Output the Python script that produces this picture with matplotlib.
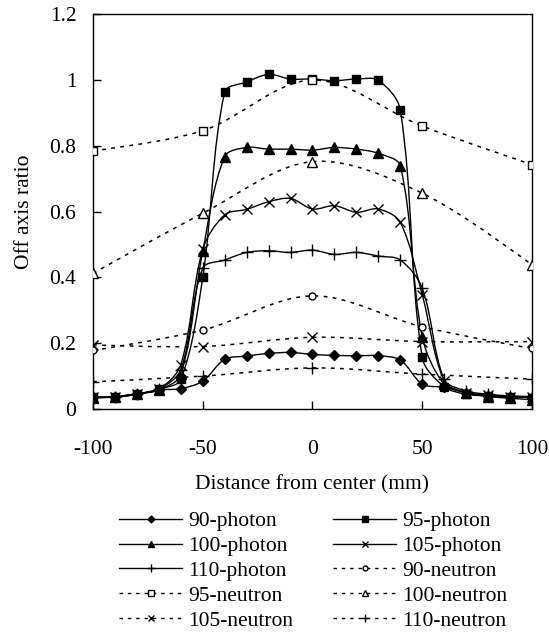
import numpy as np
import matplotlib
matplotlib.use('Agg')
import matplotlib.pyplot as plt
from matplotlib.path import Path
from matplotlib.patches import PathPatch
from matplotlib.lines import Line2D

plt.rcParams['font.family'] = ['Liberation Serif', 'DejaVu Serif']
plt.rcParams['axes.unicode_minus'] = False

# photon profiles, 10 mm steps
x_photon = [-100, -90, -80, -70, -60, -50, -40, -30, -20, -10, 0,
            10, 20, 30, 40, 50, 60, 70, 80, 90, 100]
p90 = [0.036, 0.036, 0.045, 0.058, 0.062, 0.085, 0.151, 0.161, 0.169, 0.172, 0.166,
       0.163, 0.162, 0.162, 0.149, 0.076, 0.066, 0.050, 0.040, 0.037, 0.035]
p95 = [0.036, 0.036, 0.045, 0.060, 0.090, 0.400, 0.963, 0.994, 1.017, 1.003, 1.003,
       0.998, 1.003, 0.999, 0.909, 0.157, 0.068, 0.045, 0.040, 0.037, 0.035]
p100 = [0.035, 0.036, 0.046, 0.058, 0.105, 0.480, 0.767, 0.795, 0.790, 0.790, 0.787,
        0.795, 0.790, 0.777, 0.739, 0.220, 0.075, 0.050, 0.038, 0.033, 0.028]
p105 = [0.036, 0.037, 0.047, 0.060, 0.135, 0.485, 0.590, 0.607, 0.630, 0.640, 0.608,
        0.618, 0.598, 0.608, 0.567, 0.347, 0.085, 0.050, 0.042, 0.038, 0.036]
p110 = [0.036, 0.037, 0.047, 0.060, 0.120, 0.428, 0.453, 0.476, 0.481, 0.476, 0.483,
        0.470, 0.476, 0.465, 0.453, 0.367, 0.090, 0.055, 0.045, 0.040, 0.038]

# neutron profiles, 50 mm steps
x_neutron = [-100, -50, 0, 50, 100]
n90 = [0.178, 0.240, 0.344, 0.250, 0.184]
n95 = [0.785, 0.846, 1.000, 0.860, 0.743]
n100 = [0.412, 0.595, 0.752, 0.656, 0.438]
n105 = [0.195, 0.190, 0.218, 0.205, 0.205]
n110 = [0.083, 0.100, 0.125, 0.106, 0.091]

FS = 15.5

fig = plt.figure(figsize=(5.49, 6.32), dpi=100)
ax = fig.add_axes([0.1694, 0.3528, 0.7996, 0.6247])
ax.set_xlim(-100, 100)
ax.set_ylim(0, 1.2)


def smooth_path(xs, ys):
    # excel-like smoothed line, tangents weighted by on-screen chord lengths
    p = np.column_stack([xs, ys]).astype(float)
    d = ax.transData.transform(p)
    n = len(p)
    seg = np.hypot(*np.diff(d, axis=0).T)
    out_c, in_c = [], []
    for i in range(n):
        if i == 0 or i == n - 1:
            out_c.append(p[i])
            in_c.append(p[i])
            continue
        t = p[i + 1] - p[i - 1]
        a, b = seg[i - 1], seg[i]
        out_c.append(p[i] + t * b / (a + b) / 3.0)
        in_c.append(p[i] - t * a / (a + b) / 3.0)
    verts = [p[0]]
    codes = [Path.MOVETO]
    for i in range(n - 1):
        verts += [out_c[i], in_c[i + 1], p[i + 1]]
        codes += [Path.CURVE4] * 3
    return Path(verts, codes)


dash = (0, (2.5, 3.5))
series = [
    ('90-photon', x_photon, p90, dict(marker='D', ms=5.0, mfc='black', mec='black'), '-'),
    ('95-photon', x_photon, p95, dict(marker='s', ms=6.0, mfc='black', mec='black'), '-'),
    ('100-photon', x_photon, p100, dict(marker='^', ms=7.0, mfc='black', mec='black'), '-'),
    ('105-photon', x_photon, p105, dict(marker='x', ms=7.0, mew=1.0, mec='black'), '-'),
    ('110-photon', x_photon, p110, dict(marker='+', ms=8.0, mew=1.0, mec='black'), '-'),
    ('90-neutron', x_neutron, n90, dict(marker='o', ms=5.0, mfc='white', mec='black', mew=1.0), dash),
    ('95-neutron', x_neutron, n95, dict(marker='s', ms=5.5, mfc='white', mec='black', mew=1.0), dash),
    ('100-neutron', x_neutron, n100, dict(marker='^', ms=7.0, mfc='white', mec='black', mew=1.0), dash),
    ('105-neutron', x_neutron, n105, dict(marker='x', ms=7.0, mew=1.0, mec='black'), dash),
    ('110-neutron', x_neutron, n110, dict(marker='+', ms=8.0, mew=1.0, mec='black'), dash),
]

handles = {}
for name, xs, ys, mk, ls in series:
    ax.add_patch(PathPatch(smooth_path(xs, ys), fill=False, ec='black',
                           lw=1.0 if ls == '-' else 1.1, linestyle=ls, zorder=2))
    ax.plot(xs, ys, linestyle='none', zorder=3, **mk)
    lmk = dict(mk)
    lmk['ms'] = mk['ms'] * 0.7
    handles[name] = Line2D([], [], color='black', lw=1.0, linestyle=ls, **lmk)

ax.set_xticks([-100, -50, 0, 50, 100])
ax.set_yticks([0, 0.2, 0.4, 0.6, 0.8, 1.0, 1.2])
ax.set_yticklabels(['0', '0.2', '0.4', '0.6', '0.8', '1', '1.2'])
ax.tick_params(direction='in', length=6, width=1, labelsize=FS)
ax.tick_params(axis='x', pad=22)
ax.tick_params(axis='y', pad=12)
for s in ax.spines.values():
    s.set_linewidth(1.0)
ax.set_xlabel('Distance from center (mm)', fontsize=FS, labelpad=12)
ax.set_ylabel('Off axis ratio', fontsize=FS, labelpad=11)

order = ['90-photon', '100-photon', '110-photon', '95-neutron', '105-neutron',
         '95-photon', '105-photon', '90-neutron', '100-neutron', '110-neutron']
fig.legend([handles[k] for k in order], order, ncol=2, loc='upper left',
           bbox_to_anchor=(0.2168, 0.191), frameon=False, fontsize=FS,
           handlelength=2.93, handletextpad=0.28, columnspacing=1.86,
           labelspacing=0.22, borderaxespad=0, borderpad=0)

fig.savefig('out.png', dpi=100)
